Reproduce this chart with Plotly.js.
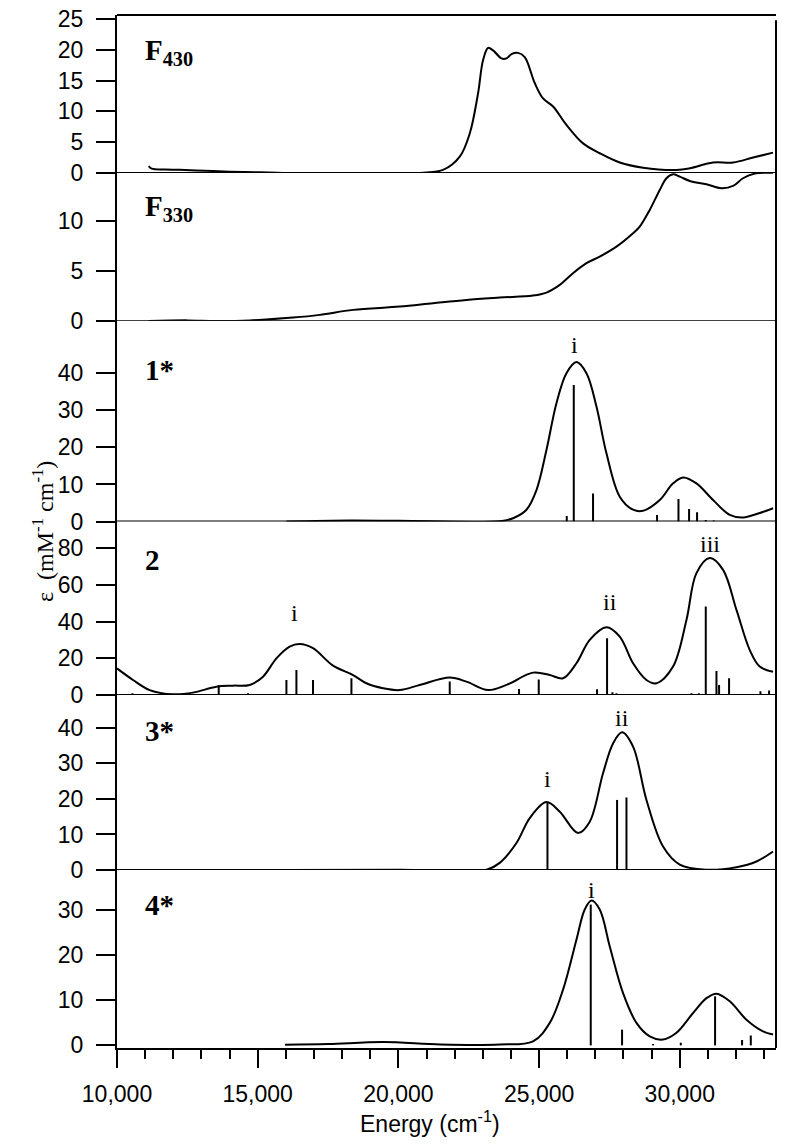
<!DOCTYPE html>
<html>
<head>
<meta charset="utf-8">
<script src="https://cdn.plot.ly/plotly-3.0.1.min.js"></script>
<style>html,body{margin:0;padding:0;background:#fff;}#chart{width:800px;height:1146px;}</style>
</head>
<body>
<div id="chart"></div>
<script>
// ---------- DATA ----------
const xTickVals = [10000, 15000, 20000, 25000, 30000];
const xTickText = ['10,000', '15,000', '20,000', '25,000', '30,000'];

const panelLabels = ['F<sub>430</sub>', 'F<sub>330</sub>', '1*', '2', '3*', '4*'];
const yTickVals1 = [0, 5, 10, 15, 20, 25];
const yTickVals2 = [0, 5, 10];
const yTickVals3 = [0, 10, 20, 30, 40];
const yTickVals4 = [0, 20, 40, 60, 80];
const yTickVals5 = [0, 10, 20, 30, 40];
const yTickVals6 = [0, 10, 20, 30];

// F430 spectrum
const f430E = [11127, 11233, 11695, 12229, 13117, 14006, 15072, 15890, 17500, 19000, 20641, 21587, 22180, 22536, 22831, 23008, 23186, 23364, 23663, 23840, 24018, 24253, 24491, 24846, 25141, 25497, 25973, 26563, 27156, 27867, 28695, 29883, 30355, 31184, 31894, 32605, 33316];
const f430V = [1.1, 0.7, 0.55, 0.5, 0.35, 0.2, 0.1, 0.0, 0.0, 0.0, 0.0, 0.49, 2.65, 6.4, 12.9, 18.3, 20.3, 19.9, 18.6, 18.6, 19.3, 19.5, 18.8, 14.6, 12.1, 10.8, 7.8, 4.8, 3.2, 1.7, 0.86, 0.49, 0.76, 1.7, 1.7, 2.5, 3.3];

// F330 spectrum
const f330E = [11127, 12500, 13500, 14716, 16256, 17205, 18388, 20048, 21231, 22418, 23602, 24786, 25262, 25735, 26207, 26684, 27156, 27750, 28340, 28578, 28933, 29289, 29527, 29762, 30000, 30355, 30949, 31482, 31894, 32249, 32665, 33316];
const f330V = [0.0, 0.05, 0.0, 0.05, 0.33, 0.6, 1.1, 1.43, 1.77, 2.1, 2.33, 2.53, 2.83, 3.6, 4.77, 5.77, 6.43, 7.43, 8.77, 9.43, 11.1, 13.1, 14.27, 14.67, 14.43, 14.0, 13.67, 13.27, 13.5, 14.27, 14.73, 14.83];

// 1* calculated spectrum
const c1E = [16021, 18271, 20048, 23602, 24075, 24551, 24907, 25262, 25617, 25973, 26328, 26684, 27039, 27394, 27867, 28340, 28695, 29289, 29762, 30117, 30593, 31184, 31777, 32249, 32843, 33316];
const c1V = [0.0, 0.3, 0.2, 0.1, 0.9, 3.2, 8.5, 19.3, 31.9, 40, 43, 40, 31, 18.4, 6.7, 3.2, 2.9, 5.8, 10.3, 11.9, 10.3, 5.8, 1.8, 1.1, 2.3, 3.6];
const c1StickE = [25984, 26233, 26918, 29193, 29954, 30331, 30615, 30924, 31208];
const c1StickV = [1.5, 36.8, 7.6, 1.8, 6.1, 3.4, 2.5, 0.4, 0.3];

// 2 calculated spectrum
const c2E = [10000, 10569, 11162, 11990, 12701, 13533, 14123, 14716, 15189, 15665, 16138, 16494, 16966, 17677, 18388, 18864, 19454, 20048, 20759, 21825, 22418, 23186, 23840, 24786, 25379, 25852, 26328, 26801, 27394, 27867, 28340, 28816, 29172, 29762, 30238, 30593, 31066, 31539, 32015, 32488, 32843, 33316];
const c2V = [14.5, 8.2, 2.7, 0.4, 1.3, 4.5, 5.1, 5.5, 10, 20, 26.4, 27.8, 25.5, 16, 10.9, 6.4, 3.7, 2.7, 5.5, 9.5, 7.3, 2.7, 5.5, 12.2, 10.9, 9.1, 17.3, 30, 36.9, 31.8, 17.3, 8.2, 6.4, 15.5, 40.9, 66.4, 74.6, 68.2, 46.4, 24.5, 15.5, 12.7];
const c2StickE = [10547, 13615, 14656, 16021, 16376, 16966, 18331, 21825, 24288, 24988, 27060, 27416, 27608, 27750, 30416, 30675, 30924, 31304, 31397, 31752, 32868, 33174];
const c2StickV = [1, 5.5, 1, 8.2, 13.6, 8.2, 9.1, 7.3, 3.3, 8.5, 3.1, 30.9, 1.5, 1, 1, 1, 48.2, 13.1, 5.5, 9.1, 2, 2.5];

// 3* calculated spectrum
const c3E = [16021, 20048, 23130, 23602, 24196, 24669, 25262, 25735, 26385, 26801, 27273, 27629, 27949, 28340, 28816, 29406, 30000, 30949, 32015, 32726, 33316];
const c3V = [0.0, 0.1, 0.1, 2, 7.6, 14.6, 19.1, 16.4, 10.4, 13.6, 27.2, 35.6, 38.7, 34.7, 19.7, 6.6, 1.5, 0.1, 0.8, 2.4, 5.2];
const c3StickE = [25298, 27772, 28106];
const c3StickV = [19.1, 19.7, 20.4];

// 4* calculated spectrum
const c4E = [15970, 17500, 19450, 21500, 23602, 24786, 25379, 25852, 26328, 26623, 26861, 27156, 27512, 27985, 28461, 28933, 29406, 29883, 30473, 30949, 31304, 31777, 32370, 32960, 33316];
const c4V = [0.15, 0.3, 0.75, 0.2, 0.2, 0.9, 5, 12.4, 23.5, 30.2, 32.2, 30.2, 22, 11.6, 5, 2, 1.3, 2.8, 7.2, 10.5, 11.5, 9.8, 5.7, 3.1, 2.4];
const c4StickE = [26836, 27949, 29050, 30036, 31255, 32214, 32524];
const c4StickV = [31.3, 3.5, 0.3, 0.6, 10.9, 1.2, 2.2];

// Band labels
const bandText = ['i', 'i', 'ii', 'iii', 'i', 'ii', 'i'];
const bandE = [26268, 16291, 27512, 31091, 25298, 27963, 26861];
const bandV = [47.6, 44.7, 50.9, 82.3, 25.5, 42.6, 34.6];
const bandPanel = [3, 4, 4, 4, 5, 5, 6];

// ---------- BUILD ----------
function sticks(E, V) {
  const x = [], y = [];
  for (let i = 0; i < E.length; i++) { x.push(E[i], E[i], null); y.push(0, V[i], null); }
  return {x, y};
}
const lineStyle = {color: '#000', width: 2, shape: 'spline', smoothing: 1.0};
const stickStyle = {color: '#000', width: 2};
const curves = [[f430E, f430V], [f330E, f330V], [c1E, c1V], [c2E, c2V], [c3E, c3V], [c4E, c4V]];
const stickSets = [null, null, [c1StickE, c1StickV], [c2StickE, c2StickV], [c3StickE, c3StickV], [c4StickE, c4StickV]];

const traces = [];
curves.forEach((c, i) => {
  const ya = i === 0 ? 'y' : 'y' + (i + 1);
  traces.push({x: c[0], y: c[1], type: 'scatter', mode: 'lines', line: lineStyle, xaxis: 'x', yaxis: ya, hoverinfo: 'skip'});
  if (stickSets[i]) {
    const s = sticks(stickSets[i][0], stickSets[i][1]);
    traces.push({x: s.x, y: s.y, type: 'scatter', mode: 'lines', line: stickStyle, xaxis: 'x', yaxis: ya, hoverinfo: 'skip', connectgaps: false});
  }
});

const domains = [[0.8471, 1.0], [0.7039, 0.8471], [0.5096, 0.7039], [0.3417, 0.5096], [0.1723, 0.3417], [0, 0.1723]];
const ranges = [[0, 25.65], [0, 14.8], [0, 54.1], [0, 94.5], [0, 49.2], [-0.58, 38.98]];
const tickSets = [yTickVals1, yTickVals2, yTickVals3, yTickVals4, yTickVals5, yTickVals6];
const labelY = [0.9637, 0.8135, 0.6564, 0.4726, 0.3064, 0.1387];

const tickFont = {family: 'Liberation Sans, Arial, sans-serif', size: 23, color: '#000'};
const serif = 'Liberation Serif, Times New Roman, serif';

const layout = {
  width: 800, height: 1146,
  margin: {l: 117, r: 24, t: 15, b: 98},
  paper_bgcolor: '#fff', plot_bgcolor: '#fff',
  showlegend: false,
  xaxis: {
    range: [10000, 33420], anchor: 'y6', showgrid: false, zeroline: false,
    showline: true, linecolor: '#000', linewidth: 2,
    ticks: 'outside', ticklen: 18, tickwidth: 2, tickcolor: '#000',
    tickvals: xTickVals, ticktext: xTickText, tickfont: tickFont, ticklabelstandoff: 6,
    minor: {dtick: 1000, ticks: 'outside', ticklen: 9, tickwidth: 2, tickcolor: '#000', showgrid: false}
  },
  shapes: [
    {type: 'line', xref: 'paper', yref: 'paper', x0: 0, x1: 1, y0: 1, y1: 1, line: {color: '#000', width: 2}},
    {type: 'line', xref: 'paper', yref: 'paper', x0: 1, x1: 1, y0: 0, y1: 0.995, line: {color: '#000', width: 2}}
  ],
  annotations: []
};

for (let i = 0; i < 6; i++) {
  const key = i === 0 ? 'yaxis' : 'yaxis' + (i + 1);
  layout[key] = {
    domain: domains[i], range: ranges[i], anchor: 'x', showgrid: false, zeroline: false,
    showline: true, linecolor: '#000', linewidth: 2,
    ticks: 'outside', ticklen: 19, tickwidth: 2, tickcolor: '#000',
    tickvals: tickSets[i], tickfont: tickFont, ticklabelstandoff: 8
  };
  if (i < 5) {
    layout.shapes.push({type: 'line', xref: 'paper', yref: i === 0 ? 'y' : 'y' + (i + 1), x0: 0, x1: 1, y0: 0, y1: 0, line: {color: '#000', width: 2}});
  }
  layout.annotations.push({
    text: '<b>' + panelLabels[i] + '</b>', xref: 'paper', yref: 'paper', x: 0.0395, y: labelY[i],
    xanchor: 'left', yanchor: 'middle', showarrow: false,
    font: {family: serif, size: 29, color: '#000'}
  });
}

for (let k = 0; k < bandText.length; k++) {
  layout.annotations.push({
    text: bandText[k], xref: 'x', yref: 'y' + bandPanel[k], x: bandE[k], y: bandV[k],
    xanchor: 'center', yanchor: 'middle', showarrow: false,
    font: {family: serif, size: 24, color: '#000'}
  });
}

layout.annotations.push({
  text: 'Energy (cm<sup>-1</sup>)', xref: 'paper', yref: 'paper', x: 0.475, y: -0.072,
  xanchor: 'center', yanchor: 'middle', showarrow: false,
  font: {family: 'Liberation Sans, Arial, sans-serif', size: 23, color: '#000'}
});
layout.annotations.push({
  text: 'ε  (mM<sup>-1</sup> cm<sup>-1</sup>)', xref: 'paper', yref: 'paper', x: -0.112, y: 0.4997,
  xanchor: 'center', yanchor: 'middle', showarrow: false, textangle: -90,
  font: {family: serif, size: 24, color: '#000'}
});

Plotly.newPlot('chart', traces, layout, {staticPlot: true, displayModeBar: false});
</script>
</body>
</html>
